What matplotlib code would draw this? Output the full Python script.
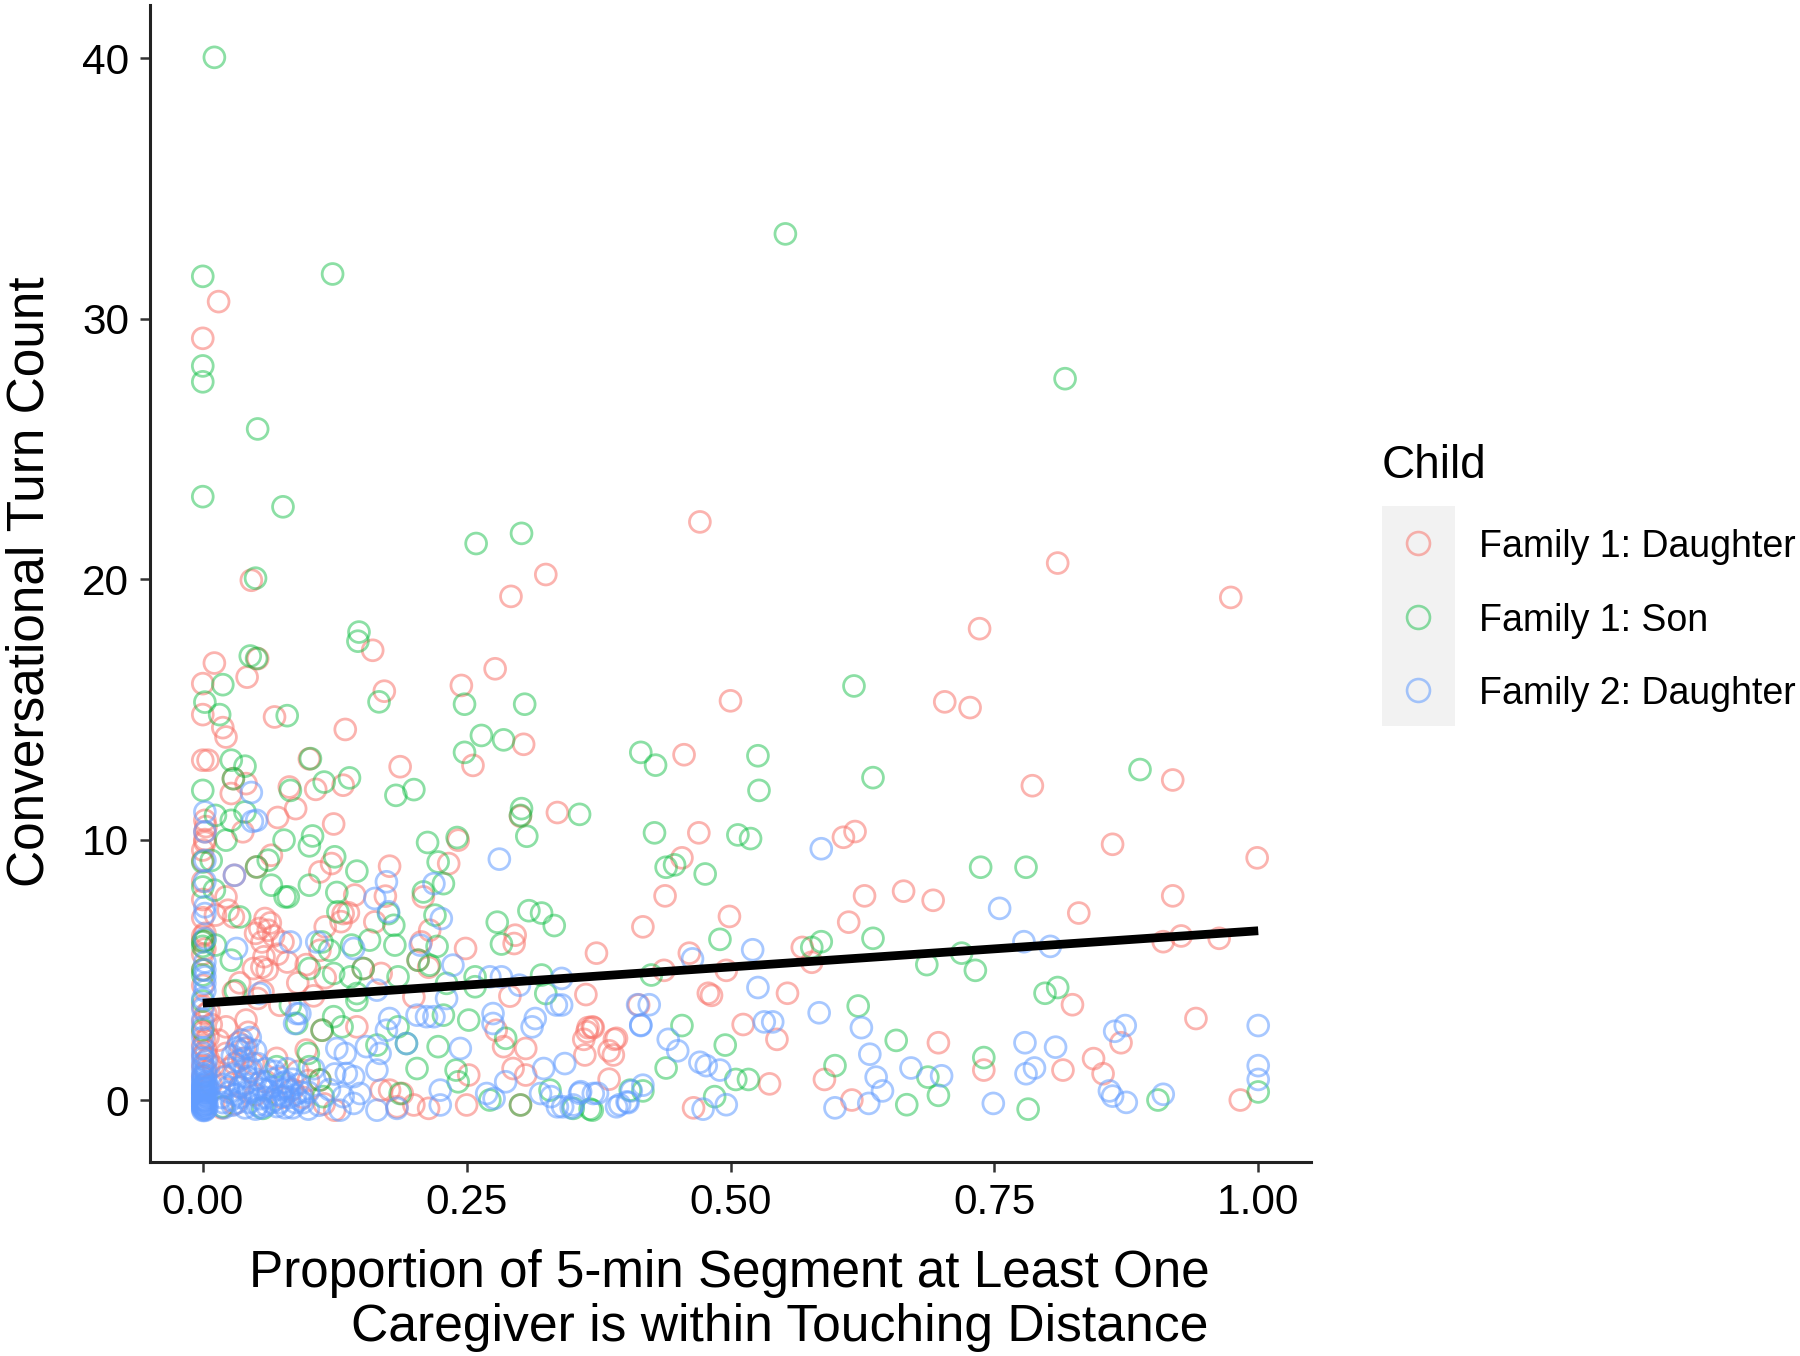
#!/usr/bin/env python3
# Conversational turn count vs. proportion of segment in touching distance

import matplotlib

matplotlib.use("Agg")
matplotlib.rcParams["font.family"] = ["Liberation Sans", "DejaVu Sans"]

import matplotlib.pyplot as plt
from matplotlib.lines import Line2D
from matplotlib.patches import Rectangle

LABELS = ["Family 1: Daughter", "Family 1: Son", "Family 2: Daughter"]
X_TICKS = [0.00, 0.25, 0.50, 0.75, 1.00]
Y_TICKS = [0, 10, 20, 30, 40]
FIT_X = [0.0, 1.0]
FIT_Y = [3.72, 6.5]

DAUGHTER1 = [
    (.015, 30.66), (0, 29.25), (.471, 22.2), (.81, 20.62), (.974, 19.3), (.325, 20.18), (.292, 19.34),
    (.046, 19.96), (.736, 18.1), (.277, 16.56), (.5, 15.33), (.703, 15.29), (.727, 15.07), (.786, 12.07),
    (.919, 12.29), (.456, 13.26), (.47, 10.26), (.607, 10.09), (.618, 10.31), (.862, 9.82), (.999, 9.3),
    (.454, 9.3), (.438, 7.84), (.417, 6.65), (.664, 8.02), (.627, 7.84), (.692, 7.67), (.499, 7.05),
    (.83, 7.18), (.919, 7.84), (.927, 6.3), (.91, 6.08), (.963, 6.21), (.612, 6.83), (.568, 5.86),
    (.577, 5.29), (.461, 5.64), (.373, 5.64), (.437, 4.98), (.496, 4.98), (.479, 4.1), (.482, 4.02),
    (.554, 4.1), (.363, 4.05), (.824, 3.66), (.941, 3.13), (.365, 2.78), (.37, 2.78), (.361, 2.33),
    (.39, 2.33), (.385, 1.89), (.512, 2.9), (.544, 2.33), (.697, 2.2), (.74, 1.15), (.815, 1.15),
    (.844, 1.59), (.853, 1.01), (.87, 2.2), (.537, .62), (.589, .79), (.615, 0), (.465, -.3), (.983, 0),
    (.011, 16.78), (.052, 16.95), (.042, 16.24), (0, 15.99), (0, 14.8), (.019, 14.3), (.022, 13.94),
    (.068, 14.71), (.135, 14.23), (.161, 17.27), (.172, 15.7), (.245, 15.92), (.256, 12.85), (.304, 13.66),
    (.187, 12.8), (0, 13.05), (.005, 13.05), (.101, 13.1), (.029, 12.34), (.041, 12.15), (.027, 11.77),
    (.082, 12.02), (.107, 11.93), (.133, 12.09), (.088, 11.19), (.071, 10.85), (.124, 10.6), (.038, 10.3),
    (.002, 10.74), (.002, 10.3), (.002, 10.0), (.301, 10.9), (.336, 11.04), (.242, 9.98), (.233, 9.08),
    (.177, 8.98), (.122, 9.08), (.111, 8.76), (.065, 9.4), (.051, 8.95), (.03, 8.63), (.144, 7.87),
    (.173, 7.83), (.209, 7.8), (.133, 7.16), (.138, 7.19), (.131, 6.85), (.022, 7.8), (.024, 7.29),
    (.029, 7.03), (.059, 6.97), (.062, 6.52), (.054, 6.59), (.056, 6.07), (.076, 6.07), (.08, 5.3),
    (.056, 5.1), (.048, 5.05), (.116, 6.65), (.111, 5.75), (.163, 6.84), (.215, 6.52), (.204, 5.37),
    (.214, 5.1), (.207, 6.07), (.249, 5.82), (.296, 6.33), (.295, 6.01), (.152, 5.05), (.169, 4.86),
    (.116, 4.7), (.057, 4.16), (.029, 4.16), (.073, 3.64), (.2, 3.96), (.291, 3.99), (.413, 3.65),
    (.022, 2.81), (.041, 3.07), (.113, 2.68), (.146, 2.81), (.278, 2.68), (.285, 2.05), (.306, 1.98),
    (.369, 2.81), (.364, 2.62), (.098, 1.92), (.04, 1.98), (.022, 1.79), (.252, .96), (.294, 1.21),
    (.306, .96), (.169, .38), (.177, .38), (.189, .25), (.2, -.19), (.214, -.32), (.184, -.26),
    (.125, -.39), (.25, -.19), (.301, -.19), (.111, .77), (.392, 2.37), (.389, 1.73), (.385, .8),
    (.362, 1.73), (0, 9.6), (0, 9.2), (0, 8.4), (0, 7.7), (0, 7.0), (0, 6.3), (0, 5.6), (0, 5.0),
    (0, 4.4), (0, 3.6), (0, 3.0), (0, 2.6), (0, 2.1), (0, 1.7), (0, 1.3), (0, .9), (.005, 2.4), (.005, 1.6),
    (.02, .9), (.03, 1.4), (.035, .5), (.045, 1.1), (.05, .2), (.06, .7), (.07, 1.6), (.085, .4), (.095, .1),
    (.018, -.3), (.03, -.15), (.09, 1.1), (.075, .1), (.1, .75), (.115, -.15),
    (0, 6.1), (.002, 5.8), (.002, 6.4), (.003, 3.3), (.002, 2.3), (.003, 1.9), (.003, 1.1), (.002, 9.9),
    (.003, 10.5), (.064, 6.8), (.067, 6.3), (.071, 5.6), (.05, 6.4), (.058, 5.5), (.061, 5.0), (.043, 2.6),
    (.034, 2.2), (.038, 1.6), (.048, 1.4), (.025, 1.2), (.015, 2.3), (.012, 7.1), (.09, 4.5), (.035, 4.5),
    (.052, 3.9), (.098, 5.2), (.105, 4.0), (.008, 2.9), (.006, 3.4), (.01, 1.3), (.008, .6),
]

SON1 = [
    (.011, 40.04), (.552, 33.26), (0, 31.63), (.123, 31.72), (.817, 27.7), (0, 28.19), (0, 27.58),
    (.052, 25.77), (0, 23.17), (.076, 22.78), (.302, 21.76), (.259, 21.37), (.05, 20.04), (.045, 17.05),
    (.051, 16.96), (.148, 17.97), (.147, 17.62), (.167, 15.29), (.019, 15.95), (.248, 15.2), (.305, 15.2),
    (.08, 14.76), (.617, 15.9), (.264, 14.0), (.285, 13.83), (.248, 13.35), (.415, 13.35), (.429, 12.86),
    (.526, 13.22), (.527, 11.89), (.635, 12.38), (.888, 12.69), (.357, 10.97), (.302, 11.19), (.301, 10.93),
    (.307, 10.13), (.428, 10.26), (.507, 10.18), (.519, 10.04), (.737, 8.94), (.78, 8.94), (.476, 8.68),
    (.439, 8.94), (.447, 9.03), (.309, 7.27), (.321, 7.18), (.333, 6.7), (.279, 6.83), (.283, 5.99),
    (.49, 6.17), (.586, 6.08), (.577, 5.86), (.635, 6.21), (.719, 5.64), (.686, 5.2), (.732, 4.98),
    (.425, 4.8), (.798, 4.1), (.81, 4.32), (.621, 3.61), (.454, 2.86), (.657, 2.29), (.495, 2.11),
    (.74, 1.63), (.599, 1.32), (.439, 1.23), (.517, .79), (.505, .79), (.687, .88), (.697, .18),
    (.667, -.18), (.782, -.35), (.905, 0), (1.0, .31), (.485, .13), (.367, -.35), (.417, .35),
    (.002, 15.28), (.016, 14.8), (.027, 13.05), (.04, 12.82), (.029, 12.34),
    (.102, 13.11), (0, 11.89), (.083, 11.89), (.115, 12.21), (.139, 12.37), (.183, 11.7), (.2, 11.92),
    (.012, 10.93), (.027, 10.74), (.04, 11.06), (.022, 9.98), (.077, 9.98), (.104, 10.14), (.101, 9.76),
    (0, 9.14), (.008, 9.2), (.062, 9.21), (.051, 8.95), (.125, 9.34), (.146, 8.79), (.213, 9.89),
    (.241, 10.08), (.223, 9.14), (.228, 8.31), (.065, 8.25), (.101, 8.25), (.081, 7.8), (.078, 7.8),
    (.127, 7.97), (0, 8.18), (.011, 8.06), (.209, 7.99), (.22, 7.1), (.128, 7.23), (.176, 7.16),
    (.181, 6.71), (.035, 7.03), (0, 6.07), (.002, 6.13), (.012, 5.95), (0, 5.9), (.113, 6.07),
    (.12, 5.75), (.141, 5.95), (.158, 6.14), (.182, 5.95), (.204, 5.37), (.215, 5.18), (.222, 5.9),
    (.101, 5.05), (.124, 4.86), (.14, 4.73), (.152, 5.05), (.185, 4.73), (.027, 5.37), (0, 4.8),
    (.031, 4.2), (.231, 4.48), (.258, 4.73), (.258, 4.35), (.321, 4.8), (.325, 4.09), (.146, 4.09),
    (.146, 3.83), (.083, 3.64), (.089, 2.94), (.124, 3.2), (.113, 2.68), (.132, 2.81), (.185, 2.81),
    (.228, 3.26), (.252, 3.07), (.287, 2.37), (.193, 2.17), (.223, 2.05), (.165, 2.11), (.1, 1.79),
    (.203, 1.21), (.24, 1.15), (.242, .7), (.07, 1.28), (.101, 1.28), (.111, .77), (.114, .13),
    (.272, 0), (.301, -.19), (.329, .38), (.351, -.32), (.369, -.39), (.405, .38), (.057, -.32),
    (.187, .25), (.019, -.26), (0, 5.0), (0, 3.8), (0, 2.7),
]

DAUGHTER2 = [
    (.046, 11.81), (.047, 10.7), (.281, 9.25), (.586, 9.65), (.755, 7.36), (.778, 6.08), (.803, 5.9),
    (.521, 5.77), (.464, 5.42), (.526, 4.32), (1.0, 2.86), (.864, 2.64), (.874, 2.86), (.584, 3.35),
    (.532, 3.0), (.54, 3.0), (.624, 2.78), (.779, 2.2), (.808, 2.03), (.632, 1.76), (.671, 1.23), (.7, .93),
    (.638, .88), (.644, .35), (.78, 1.01), (.788, 1.23), (.471, 1.45), (.477, 1.32), (.49, 1.15),
    (.441, 2.33), (.45, 1.89), (.415, 2.86), (.423, 3.66), (.412, 3.66), (1.0, 1.32), (1.0, .79),
    (.859, .35), (.862, .15), (.91, .22), (.875, -.09), (.749, -.13), (.599, -.3), (.631, -.13),
    (.496, -.18), (.474, -.35), (.417, .57), (.406, .35), (.395, -.18), (.403, -.1), (.374, .26),
    (.357, .26), (.341, -.26), (.349, -.3), (.33, .13), (.002, 11.06), (.051, 10.74),
    (.03, 8.63), (.174, 8.38), (.219, 8.31), (.163, 7.74), (.176, 7.23), (.226, 6.97), (.032, 5.82),
    (.083, 6.07), (.108, 6.07), (.143, 5.82), (.206, 5.95), (.237, 5.18), (.002, 7.42), (.002, 7.16),
    (.002, 4.73), (.002, 5.0), (.002, 4.48), (.054, 4.09), (.165, 4.22), (.272, 4.73), (.283, 4.73),
    (.3, 4.41), (.34, 4.67), (.231, 3.9), (.089, 3.32), (.092, 3.32), (.087, 2.94), (.177, 3.13),
    (.174, 2.68), (.203, 3.26), (.212, 3.2), (.219, 3.2), (.275, 3.32), (.275, 2.94), (.315, 3.13),
    (.312, 2.81), (.335, 3.65), (.34, 3.65), (.415, 2.88), (.244, 1.98), (.193, 2.17), (.127, 1.98),
    (.135, 1.79), (.155, 2.05), (.168, 1.79), (.165, 1.15), (.136, 1.02), (.143, .9), (.343, 1.4),
    (.323, 1.21), (.287, .7), (.269, .25), (.276, .06), (.32, .25), (.358, .32), (.37, .25), (.392, -.26),
    (.402, -.07), (.225, .38), (.225, -.19), (.165, -.39), (.184, -.32), (.143, -.13), (.133, .13),
    (.149, .25), (.13, -.39), (.336, -.26), (.351, -.19), (.002, 10.3), (.002, 9.2), (.002, 8.4),
    (.002, 6.2), (.002, 5.3), (.002, 4.2), (0, 3.9), (0, 3.5), (0, 3.1), (0, 2.8), (0, 2.4), (0, 2.0),
    (0, 1.8), (0, 1.6), (0, 1.4), (0, 1.2), (0, 1.0), (0, .9), (0, .8), (0, .7), (0, .6), (0, .5), (0, .4),
    (0, .3), (0, .2), (0, .1), (0, 0), (0, -.1), (0, -.2), (0, -.3), (0, -.4), (.002, .6), (.002, .3),
    (.002, 0), (.002, -.2), (.002, -.4), (.004, .5), (.004, .1), (.004, -.3), (.004, -.15), (.004, .3),
    (.038, 2.1), (.045, 2.4), (.05, 1.9), (.04, 1.6), (.052, 1.4), (.03, 1.0), (.042, .9), (.055, .7),
    (.025, .3), (.036, .1), (.048, .3), (.06, .1), (.028, -.2), (.04, -.3), (.052, -.2), (.065, -.1),
    (.075, .4), (.072, .9), (.08, 1.2), (.082, .1), (.09, .6), (.095, -.1), (.07, -.25), (.085, -.3),
    (.06, 1.2), (.065, .5), (.1, .3), (.105, 1.2), (.11, -.2), (.12, .4), (.125, 1.0), (.02, .6),
    (.018, .1), (.019, -.1), (.055, -.3), (.035, .5), (.078, .7), (.088, .2), (.1, -.35),
    (0, -.35), (0, -.25), (0, -.15), (0, -.05), (0, .05), (0, .15), (0, .25), (0, .35), (0, .45), (0, .55),
    (.003, -.35), (.003, -.05), (.003, .2), (.003, .45), (.003, .7), (.003, .95), (.003, 1.2), (.003, 1.5),
    (.032, 2.0), (.035, 1.9), (.037, 2.3), (.042, 2.0), (.028, 1.7), (.034, 1.5), (.046, 1.2), (.03, .7),
    (.04, .6), (.05, .8), (.057, .4), (.066, .8), (.07, .2), (.08, .5), (.085, .8), (.093, .3), (.027, .0),
    (.033, -.1), (.044, -.1), (.05, -.35), (.06, -.2), (.068, .0), (.073, -.1), (.078, -.3), (.088, -.1),
    (.022, .9), (.02, -.3), (.024, .5), (.031, .2), (.043, .3), (.054, .05), (.062, .35), (.077, .15),
    (.082, .35), (.092, .0), (.068, 1.1), (.076, .65), (.04, 1.2),
]

COLORS = ["#F8766D", "#00BA38", "#619CFF"]
ALPHAS = [0.55, 0.45, 0.55]
SERIES = [DAUGHTER1, SON1, DAUGHTER2]


def fig_xy(fig, px, py):
    # reference pixels -> figure fraction, for the hand placed legend and labels
    w, h = fig.get_size_inches() * fig.dpi
    return px / w, 1 - py / h


def main() -> None:
    fig = plt.figure(figsize=(18, 13.56), dpi=100)
    ax = fig.add_axes([150 / 1800, 1 - 1162 / 1356, (1311 - 150) / 1800, (1162 - 5) / 1356])

    for points, color, alpha in zip(SERIES, COLORS, ALPHAS):
        xs = [p[0] for p in points]
        ys = [p[1] for p in points]
        ax.scatter(xs, ys, s=225, facecolors="none", edgecolors=color, alpha=alpha, linewidths=2.0, clip_on=False)

    ax.plot(FIT_X, FIT_Y, color="black", linewidth=6.3, solid_capstyle="butt")

    ax.set_xlim(-0.05, 1.05)
    ax.set_ylim(-2.38, 42.05)
    ax.set_xticks(X_TICKS)
    ax.set_xticklabels([f"{v:.2f}" for v in X_TICKS])
    ax.set_yticks(Y_TICKS)
    ax.tick_params(axis="both", labelsize=30.5, length=7, width=1.8, color="#333333", labelcolor="black", pad=8)
    for spine in ("top", "right"):
        ax.spines[spine].set_visible(False)
    for spine in ("left", "bottom"):
        ax.spines[spine].set_linewidth(2.2)
        ax.spines[spine].set_color("#222222")

    fig.text(*fig_xy(fig, 30, 582), "Conversational Turn Count", rotation=90, fontsize=37, ha="center", va="center")
    fig.text(*fig_xy(fig, 1210, 1274), "Proportion of 5-min Segment at Least One", fontsize=36.8, ha="right", va="center")
    fig.text(*fig_xy(fig, 1208, 1328), "Caregiver is within Touching Distance", fontsize=37.2, ha="right", va="center")

    # legend by hand, key column has a grey strip behind all three keys
    x0, y1 = fig_xy(fig, 1382, 726)
    x1, y0 = fig_xy(fig, 1455, 506)
    fig.add_artist(Rectangle((x0, y1), x1 - x0, y0 - y1, transform=fig.transFigure, facecolor="#F2F2F2", edgecolor="none"))
    fig.text(*fig_xy(fig, 1382, 478), "Child", fontsize=33, ha="left", va="baseline")
    for label, color, alpha, py in zip(LABELS, COLORS, ALPHAS, [543, 617, 690]):
        mx, my = fig_xy(fig, 1418, py)
        fig.add_artist(Line2D([mx], [my], transform=fig.transFigure, marker="o", markersize=16.5, markerfacecolor="none",
                              markeredgecolor=color, markeredgewidth=1.9, alpha=alpha, linestyle="none"))
        fig.text(*fig_xy(fig, 1479, py + 4), label, fontsize=27, ha="left", va="center")

    fig.savefig("out.png", dpi=100)
    plt.close(fig)


if __name__ == "__main__":
    main()
